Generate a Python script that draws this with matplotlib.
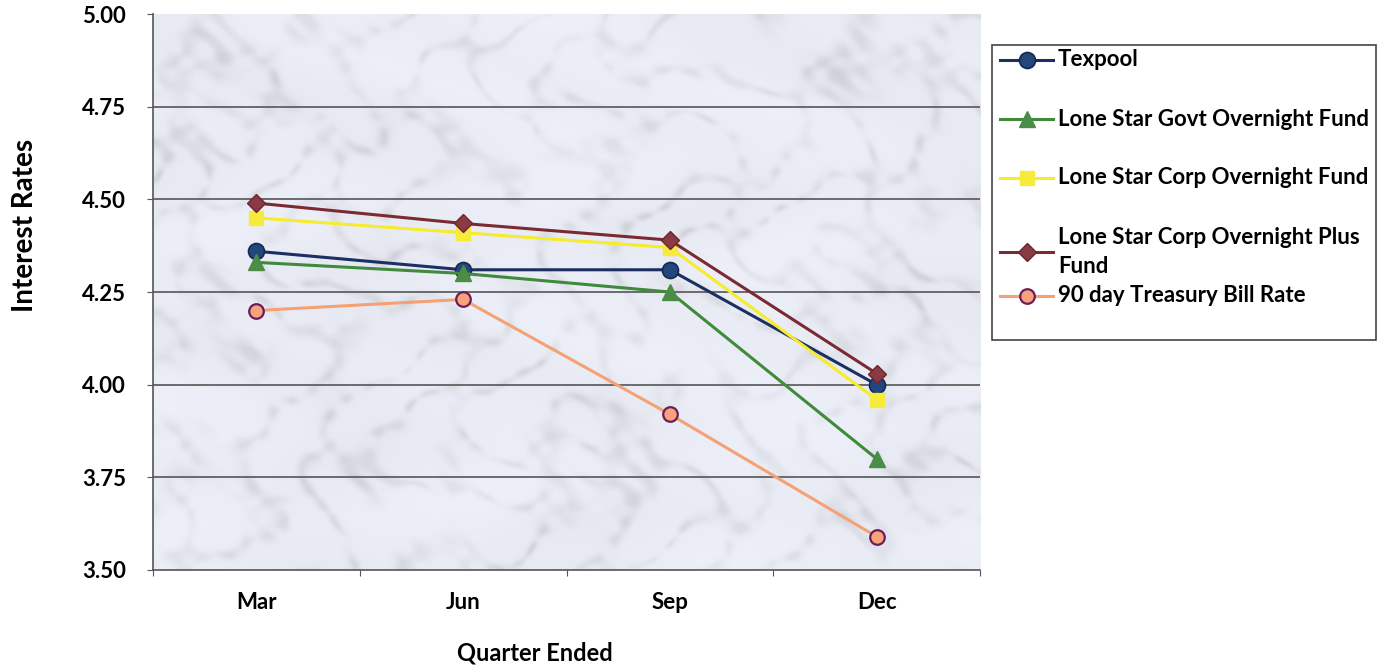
import numpy as np
import matplotlib
matplotlib.use("Agg")
import matplotlib.pyplot as plt
from matplotlib.lines import Line2D
from matplotlib.patches import Rectangle

plt.rcParams['font.family'] = ['Lato', 'DejaVu Sans']
plt.rcParams['font.weight'] = 'bold'

# data
quarters = ["Mar", "Jun", "Sep", "Dec"]
texpool = [4.36, 4.31, 4.31, 4.00]
govt_overnight = [4.33, 4.30, 4.25, 3.80]
corp_overnight = [4.45, 4.41, 4.37, 3.96]
corp_plus = [4.49, 4.435, 4.39, 4.03]
tbill_90 = [4.20, 4.23, 3.92, 3.59]

series_names = ["Texpool", "Lone Star Govt Overnight Fund", "Lone Star Corp Overnight Fund",
                "Lone Star Corp Overnight Plus\nFund", "90 day Treasury Bill Rate"]
y_ticks = [3.50, 3.75, 4.00, 4.25, 4.50, 4.75, 5.00]

styles = [
    dict(color="#1c2f62", marker="o", ms=11.5, mfc="#22477c", mec="#15284f", mew=1.2),
    dict(color="#3f8a3b", marker="^", ms=11.5, mfc="#4b8d47", mec="#4b8d47", mew=1),
    dict(color="#f4ec2c", marker="s", ms=10.5, mfc="#f6ea3a", mec="#f6ea3a", mew=1),
    dict(color="#7a2a30", marker="D", ms=9.5, mfc="#8a3a42", mec="#6e2530", mew=1),
    dict(color="#f4a274", marker="o", ms=10.5, mfc="#f7a27c", mec="#6b1d5b", mew=1.6),
]
all_series = [texpool, govt_overnight, corp_overnight, corp_plus, tbill_90]

fig = plt.figure(figsize=(13.86, 6.69), dpi=100)
ax = fig.add_axes([0.1104, 0.148, 0.5967, 0.831])

# pale marble backdrop (deterministic, decoration only)
gx, gy = np.meshgrid(np.linspace(0, 14, 800), np.linspace(0, 9, 540))
field = (np.sin(gx * 1.9 + 1.6 * np.sin(gy * 2.1) + 1.8 * np.cos(gx * 0.7 + gy * 1.3))
         + 0.7 * np.sin(gy * 3.3 + 1.3 * np.sin(gx * 2.9))
         + 0.35 * np.cos(gx * 5.1 - gy * 4.3 + np.sin(gy * 2.2)))
mottle = (np.sin(gx * 7.3 + np.cos(gy * 6.1) * 1.7) * np.cos(gy * 8.7 - np.sin(gx * 5.3))
          + 0.5 * np.sin(gx * 13.1 - gy * 11.7))
veins = np.exp(-(field / 0.45) ** 2) * (0.55 + 0.45 * np.clip(mottle, -1, 1))
cloud = 0.5 + 0.5 * np.sin(gx * 0.9 + np.cos(gy * 1.4) * 2) * np.cos(gy * 1.1 - gx * 0.4)
shade = 0.975 - 0.10 * veins * (0.5 + 0.5 * cloud) - 0.025 * cloud
img = np.dstack([shade * 0.955, shade * 0.965, shade * 1.0]).clip(0, 1)
ax.imshow(img, extent=(-0.5, 3.5, 3.5, 5.0), aspect="auto", zorder=0, interpolation="bilinear")

x = np.arange(len(quarters))
for vals, st in zip(all_series, styles):
    ax.plot(x, vals, lw=2.2, zorder=3, **st)

ax.hlines(y_ticks[1:-1], -0.5, 3.5, colors="#555555", lw=1.2, zorder=1)

ax.set_xlim(-0.5, 3.5)
ax.set_ylim(3.5, 5.0)
ax.set_yticks(y_ticks)
ax.set_yticklabels([f"{v:.2f}" for v in y_ticks], fontsize=16, fontweight="bold")
ax.set_xticks(np.arange(-0.5, 4.0, 1.0))
ax.set_xticklabels([])
ax.set_xticks(x, minor=True)
ax.set_xticklabels(quarters, minor=True, fontsize=16, fontweight="bold")
ax.tick_params(axis="x", which="minor", length=0, pad=16)
ax.tick_params(axis="x", which="major", length=4.5, direction="out", color="#555555")
ax.tick_params(axis="y", length=4.5, direction="out", color="#555555", pad=15)

for side in ["top", "right"]:
    ax.spines[side].set_visible(False)
for side in ["left", "bottom"]:
    ax.spines[side].set_color("#555555")
    ax.spines[side].set_linewidth(1.2)

ax.set_ylabel("Interest Rates", fontsize=20, fontweight="bold")
ax.yaxis.set_label_coords(-0.139, 0.62)
ax.set_xlabel("Quarter Ended", fontsize=17, fontweight="bold")
ax.xaxis.set_label_coords(0.462, -0.128)

# legend drawn by hand to match the Excel spacing
W, H = 1386, 669
fig.add_artist(Rectangle((992 / W, 1 - 340 / H), 384 / W, 295 / H, transform=fig.transFigure,
                         facecolor="white", edgecolor="#444444", lw=1.2))
entry_y = [60, 119, 178, 252, 296]
for name, st, yy in zip(series_names, styles, entry_y):
    fy = 1 - yy / H
    fig.add_artist(Line2D([1000 / W, 1053 / W], [fy, fy], transform=fig.transFigure,
                          lw=2.2, markevery=[], **st))
    fig.add_artist(Line2D([1026.5 / W], [fy], transform=fig.transFigure, lw=0, **st))
    fig.text(1058 / W, fy, name, fontsize=16, fontweight="bold", va="center", ha="left",
             linespacing=1.5)

fig.savefig("out.png", dpi=100)
